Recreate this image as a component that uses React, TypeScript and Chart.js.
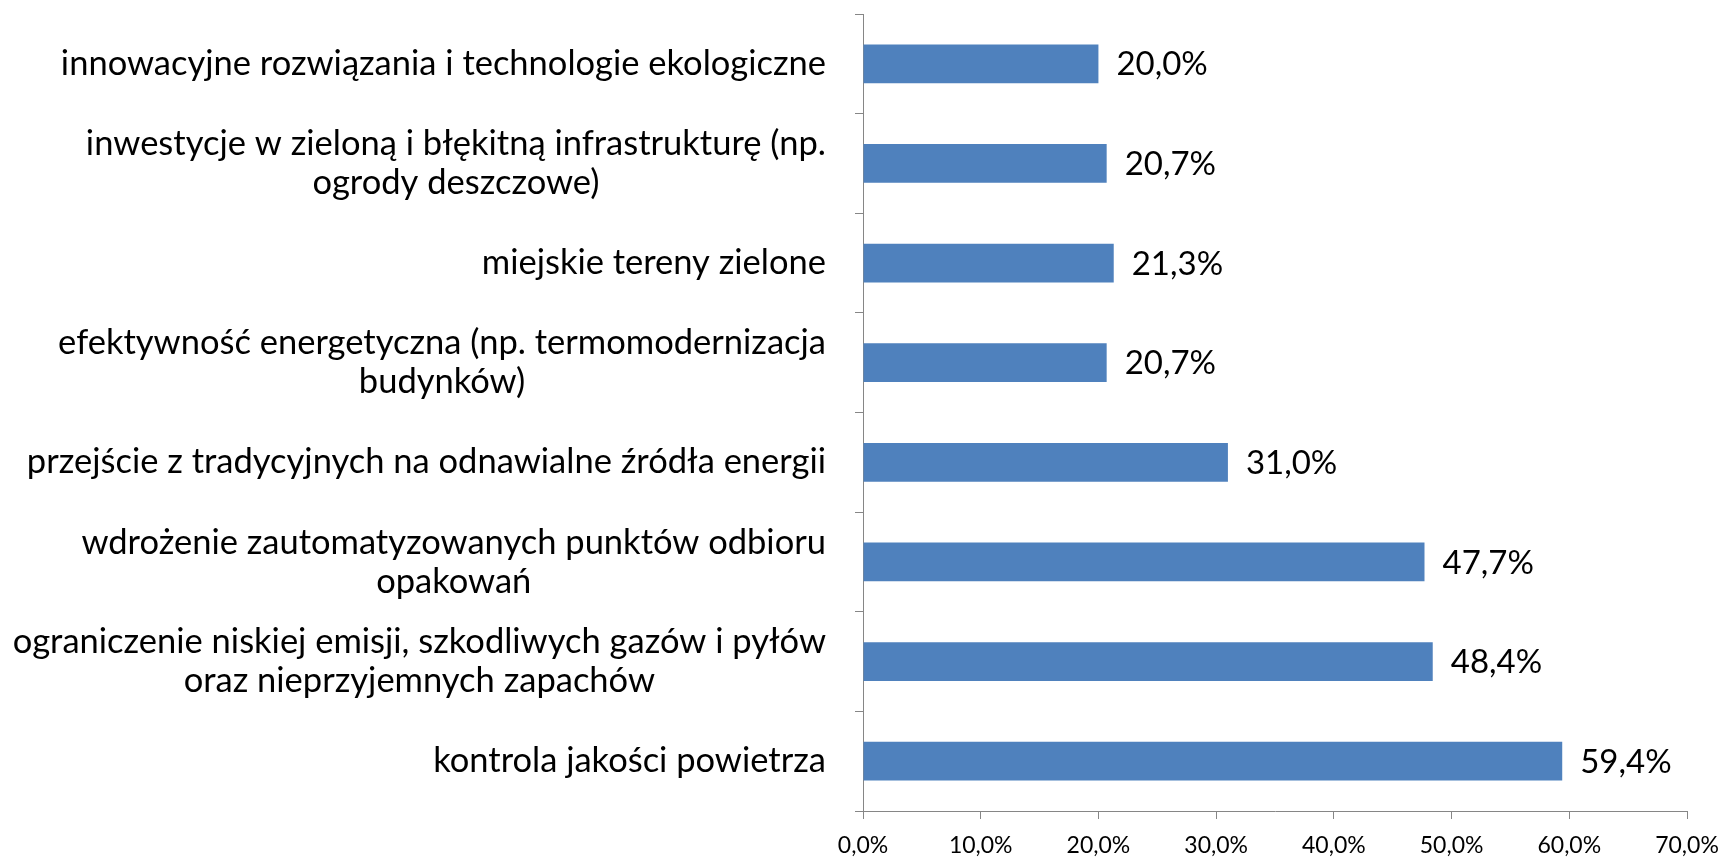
import React, { useEffect, useRef } from 'react';
import { Chart, registerables } from 'chart.js';

Chart.register(...registerables);

const categories: string[][] = [
  ['innowacyjne rozwiązania i technologie ekologiczne'],
  ['inwestycje w zieloną i błękitną infrastrukturę (np.', 'ogrody deszczowe)'],
  ['miejskie tereny zielone'],
  ['efektywność energetyczna (np. termomodernizacja', 'budynków)'],
  ['przejście z tradycyjnych na odnawialne źródła energii'],
  ['wdrożenie zautomatyzowanych punktów odbioru', 'opakowań'],
  ['ograniczenie niskiej emisji, szkodliwych gazów i pyłów', 'oraz nieprzyjemnych zapachów'],
  ['kontrola jakości powietrza'],
];

const values: number[] = [20.0, 20.7, 21.3, 20.7, 31.0, 47.7, 48.4, 59.4];

const xMin = 0;
const xMax = 70;
const xStep = 10;

const FONT = 'Lato, "Open Sans", sans-serif';
const CAT_SIZE = 34.5;
const CAT_LINE = 39;
const VAL_SIZE = 33;
const TICK_SIZE = 23;
const LABEL_RIGHT = 826;
const AXIS_COLOR = '#868686';
const BAR_COLOR = '#4F81BD';

const fmt = (v: number) => v.toFixed(1).replace('.', ',') + '%';

const labelPlugin = {
  id: 'customLabels',
  afterDraw(chart: any) {
    const ctx = chart.ctx as CanvasRenderingContext2D;
    const yScale = chart.scales.y;
    ctx.save();
    ctx.fillStyle = '#000';
    ctx.textBaseline = 'middle';
    ctx.font = `${CAT_SIZE}px ${FONT}`;
    categories.forEach((lines, i) => {
      const cy = yScale.getPixelForValue(i);
      const w = Math.max(...lines.map((l) => ctx.measureText(l).width));
      const cx = LABEL_RIGHT - w / 2;
      ctx.textAlign = 'center';
      lines.forEach((l, j) => {
        const y = cy + (j - (lines.length - 1) / 2) * CAT_LINE;
        ctx.fillText(l, cx, y);
      });
    });
    ctx.font = `${VAL_SIZE}px ${FONT}`;
    ctx.textAlign = 'left';
    const meta = chart.getDatasetMeta(0);
    meta.data.forEach((bar: any, i: number) => {
      ctx.fillText(fmt(values[i]), bar.x + 18, bar.y + 1);
    });
    ctx.restore();
  },
};

export default function App() {
  const ref = useRef<HTMLCanvasElement | null>(null);
  useEffect(() => {
    document.body.style.margin = '0';
    if (!ref.current) return;
    const chart = new Chart(ref.current, {
      type: 'bar',
      data: {
        labels: categories.map((c) => c.join(' ')),
        datasets: [
          {
            data: values,
            backgroundColor: BAR_COLOR,
            borderWidth: 0,
            barPercentage: 0.388,
            categoryPercentage: 1,
          },
        ],
      },
      options: {
        indexAxis: 'y',
        animation: false,
        responsive: false,
        devicePixelRatio: 1,
        layout: { padding: { top: 14, right: 36, left: 0, bottom: 0 } },
        plugins: { legend: { display: false }, tooltip: { enabled: false } },
        scales: {
          y: {
            ticks: { display: false },
            grid: {
              offset: true,
              drawOnChartArea: false,
              drawTicks: true,
              tickLength: 8,
              color: AXIS_COLOR,
            },
            border: { color: AXIS_COLOR, width: 1 },
            afterFit(scale: any) {
              scale.width = 863;
              scale.paddingTop = 0;
              scale.paddingBottom = 0;
            },
          },
          x: {
            min: xMin,
            max: xMax,
            ticks: {
              stepSize: xStep,
              color: '#000',
              padding: 13,
              font: { family: FONT, size: TICK_SIZE },
              callback: (v: any) => fmt(Number(v)),
            },
            grid: {
              drawOnChartArea: false,
              drawTicks: true,
              tickLength: 8,
              color: AXIS_COLOR,
            },
            border: { color: AXIS_COLOR, width: 1 },
            afterFit(scale: any) {
              scale.height = 46;
              scale.paddingLeft = 0;
              scale.paddingRight = 0;
            },
          },
        },
      },
      plugins: [labelPlugin],
    });
    return () => chart.destroy();
  }, []);
  return (
    <div style={{ position: 'absolute', left: 0, top: 0, width: 1723, height: 857 }}>
      <canvas ref={ref} width={1723} height={857} style={{ width: 1723, height: 857 }} />
    </div>
  );
}
